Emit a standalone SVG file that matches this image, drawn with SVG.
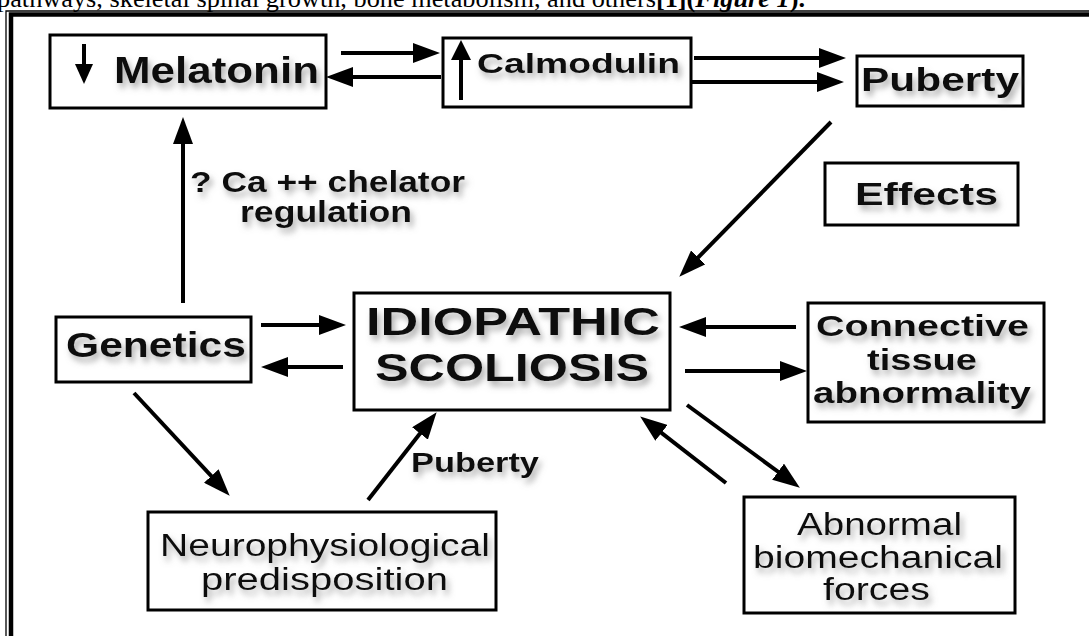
<svg xmlns="http://www.w3.org/2000/svg" width="1089" height="636" viewBox="0 0 1089 636">
<style>
.box{fill:#fff;stroke:#000;stroke-width:3}
.lbl{font-family:"Liberation Sans",Arial,sans-serif;fill:#111;filter:url(#sh)}
.b{font-weight:bold}
.con{stroke:#000;stroke-width:4;fill:none;marker-end:url(#ah)}
.top{font-family:"Liberation Serif","Times New Roman",serif;font-size:25px;fill:#000}
</style>
<defs>
<filter id="sh" x="-10%" y="-30%" width="130%" height="190%">
<feGaussianBlur in="SourceAlpha" stdDeviation="3"/>
<feOffset dx="3" dy="5" result="b"/>
<feFlood flood-color="#777" flood-opacity="0.6"/>
<feComposite in2="b" operator="in"/>
<feMerge><feMergeNode/><feMergeNode in="SourceGraphic"/></feMerge>
</filter>
<marker id="ah" markerUnits="userSpaceOnUse" markerWidth="27" markerHeight="20" refX="20" refY="10" orient="auto">
<path d="M0,0 L27,10 L0,20 z" fill="#000"/>
</marker>
</defs>
<rect width="1089" height="636" fill="#fff"/>
<text class="top" x="-3" y="7" textLength="808" lengthAdjust="spacingAndGlyphs">pathways, skeletal spinal growth, bone metabolism, and others<tspan font-weight="bold">[1](<tspan font-style="italic">Figure 1</tspan>).</tspan></text>
<g id="frame" fill="none" stroke="#000">
<path d="M6,636 V11 H1089" stroke-width="1.3"/>
<path d="M11,636 V14.5 H1089" stroke-width="4.5"/>
</g>
<g id="connectors">
<line class="con" x1="341" y1="53" x2="433" y2="53"/>
<line class="con" x1="441" y1="77" x2="333" y2="77"/>
<line class="con" x1="694" y1="58" x2="839" y2="58"/>
<line class="con" x1="691" y1="82" x2="837" y2="82"/>
<line class="con" x1="831" y1="122" x2="684.2" y2="271.7"/>
<line class="con" x1="183" y1="303" x2="183" y2="124"/>
<line class="con" x1="261" y1="325" x2="339" y2="325"/>
<line class="con" x1="343" y1="367" x2="268" y2="367"/>
<line class="con" x1="796" y1="327" x2="686" y2="327"/>
<line class="con" x1="685" y1="371" x2="800" y2="371"/>
<line class="con" x1="134" y1="393" x2="224.9" y2="490.6"/>
<line class="con" x1="368" y1="500" x2="432.3" y2="417.7"/>
<line class="con" x1="687" y1="405" x2="794.2" y2="483.5"/>
<line class="con" x1="726" y1="483" x2="645.7" y2="420.7"/>
</g>
<g id="melatonin">
<rect class="box" x="50" y="35" width="276" height="73"/>
<line x1="84" y1="44" x2="84" y2="68" stroke="#000" stroke-width="4"/>
<polygon points="75,64 93,64 84,84" fill="#000"/>
<text class="lbl b" x="114" y="83" font-size="36" textLength="205" lengthAdjust="spacingAndGlyphs">Melatonin</text>
</g>
<g id="calmodulin">
<rect class="box" x="443" y="38" width="248" height="69"/>
<line x1="461" y1="100" x2="461" y2="56" stroke="#000" stroke-width="4"/>
<polygon points="451,60 471,60 461,40" fill="#000"/>
<text class="lbl b" x="477" y="73" font-size="28" textLength="203" lengthAdjust="spacingAndGlyphs">Calmodulin</text>
</g>
<g id="puberty-top">
<rect class="box" x="857" y="56" width="166" height="50"/>
<text class="lbl b" x="861" y="91" font-size="34" textLength="158" lengthAdjust="spacingAndGlyphs">Puberty</text>
</g>
<g id="ca-label">
<text class="lbl b" x="190" y="192" font-size="29" textLength="275" lengthAdjust="spacingAndGlyphs">? Ca ++ chelator</text>
<text class="lbl b" x="240" y="222" font-size="29" textLength="172" lengthAdjust="spacingAndGlyphs">regulation</text>
</g>
<g id="effects">
<rect class="box" x="825" y="163" width="193" height="62"/>
<text class="lbl b" x="855" y="205" font-size="32" textLength="143" lengthAdjust="spacingAndGlyphs">Effects</text>
</g>
<g id="genetics">
<rect class="box" x="56" y="317" width="195" height="65"/>
<text class="lbl b" x="66" y="357" font-size="35" textLength="180" lengthAdjust="spacingAndGlyphs">Genetics</text>
</g>
<g id="idiopathic-scoliosis">
<rect class="box" x="354" y="293" width="316" height="117"/>
<text class="lbl b" x="366" y="335" font-size="38" textLength="294" lengthAdjust="spacingAndGlyphs">IDIOPATHIC</text>
<text class="lbl b" x="375" y="381" font-size="38" textLength="274" lengthAdjust="spacingAndGlyphs">SCOLIOSIS</text>
</g>
<g id="connective">
<rect class="box" x="808" y="303" width="236" height="119"/>
<text class="lbl b" x="816" y="336" font-size="30" textLength="213" lengthAdjust="spacingAndGlyphs">Connective</text>
<text class="lbl b" x="867" y="370" font-size="30" textLength="110" lengthAdjust="spacingAndGlyphs">tissue</text>
<text class="lbl b" x="813" y="403" font-size="30" textLength="218" lengthAdjust="spacingAndGlyphs">abnormality</text>
</g>
<g id="puberty-label">
<text class="lbl b" x="411" y="472" font-size="27" textLength="128" lengthAdjust="spacingAndGlyphs">Puberty</text>
</g>
<g id="neurophysiological">
<rect class="box" x="148" y="512" width="348" height="98"/>
<text class="lbl" x="160" y="556" font-size="31" textLength="330" lengthAdjust="spacingAndGlyphs">Neurophysiological</text>
<text class="lbl" x="201" y="590" font-size="31" textLength="247" lengthAdjust="spacingAndGlyphs">predisposition</text>
</g>
<g id="abnormal">
<rect class="box" x="744" y="497" width="271" height="116"/>
<text class="lbl" x="797" y="535" font-size="31" textLength="165" lengthAdjust="spacingAndGlyphs">Abnormal</text>
<text class="lbl" x="753" y="568" font-size="31" textLength="250" lengthAdjust="spacingAndGlyphs">biomechanical</text>
<text class="lbl" x="823" y="600" font-size="31" textLength="107" lengthAdjust="spacingAndGlyphs">forces</text>
</g>
</svg>
